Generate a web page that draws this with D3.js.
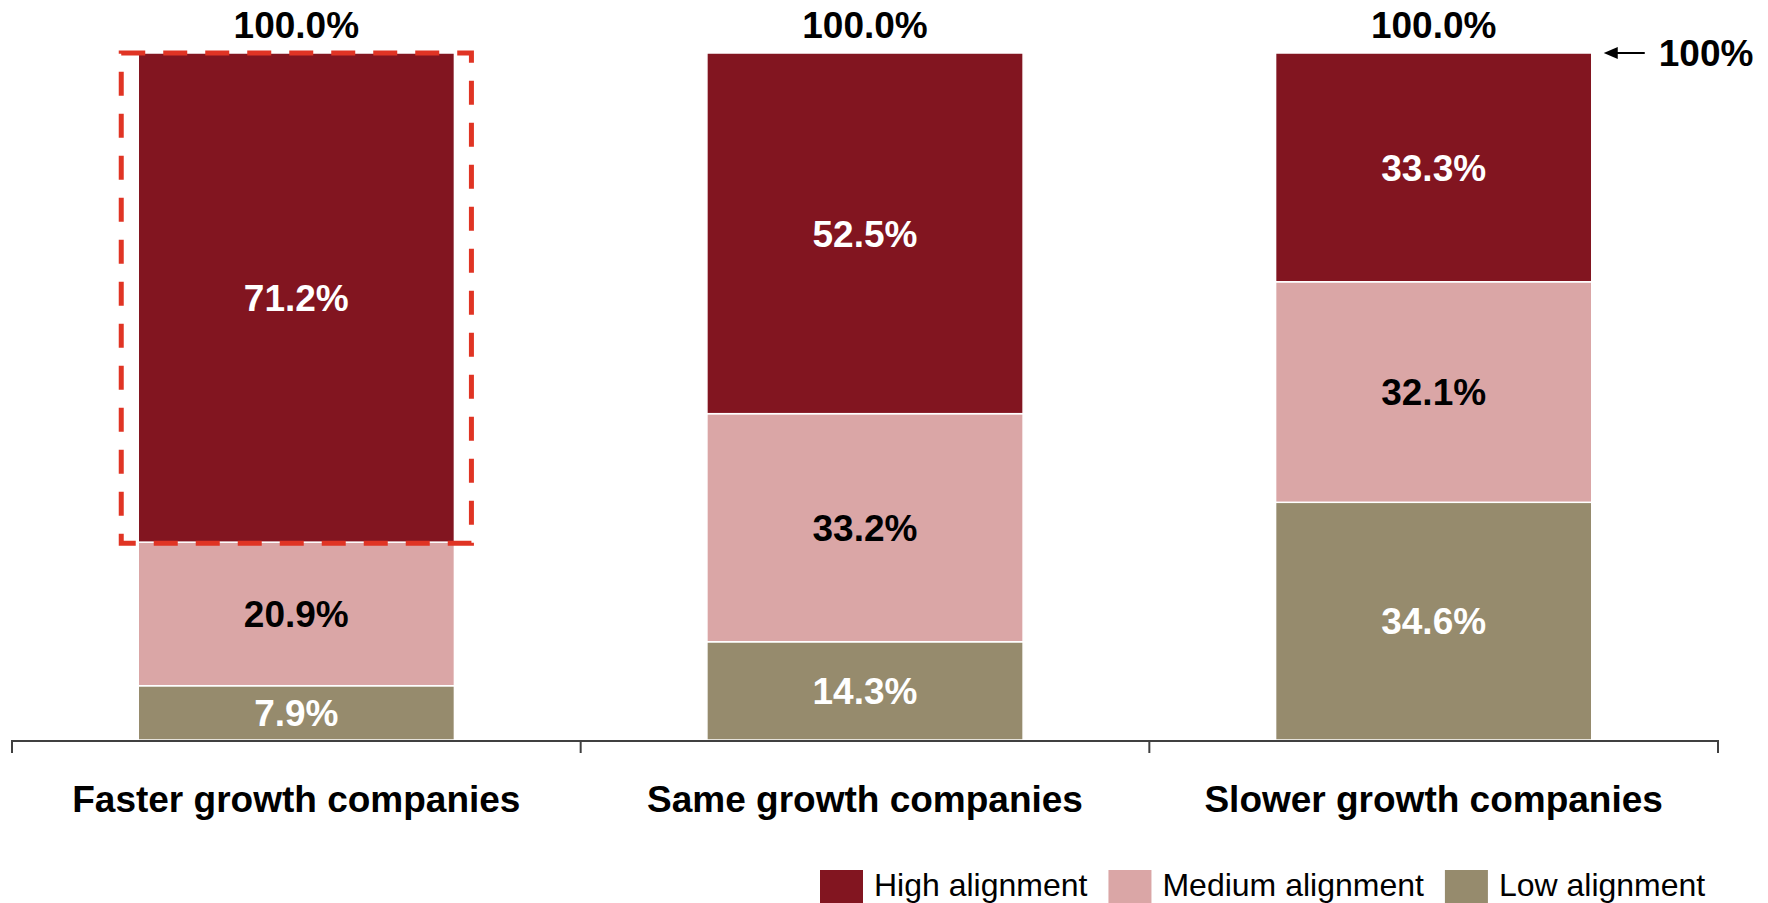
<!DOCTYPE html>
<html>
<head>
<meta charset="utf-8">
<script src="https://cdn.jsdelivr.net/npm/d3@7/dist/d3.min.js"></script>
<style>
  html, body { margin: 0; padding: 0; background: #fff; }
  svg { display: block; font-family: "Liberation Sans", Arial, sans-serif; }
</style>
</head>
<body>
<svg id="chart" width="1768" height="903"></svg>
<script>
// Share of companies by alignment level, per growth group
const categories = ["Faster growth companies", "Same growth companies", "Slower growth companies"];
const seriesNames = ["High alignment", "Medium alignment", "Low alignment"];
const highAlignment = [71.2, 52.5, 33.3];
const mediumAlignment = [20.9, 33.2, 32.1];
const lowAlignment = [7.9, 14.3, 34.6];
const totals = [100.0, 100.0, 100.0];
const referenceLevel = 100;
const referenceLabel = "100%";

const colors = {
  "High alignment": "#821520",
  "Medium alignment": "#DAA6A6",
  "Low alignment": "#968B6D"
};
const labelColors = {
  "High alignment": "#fff",
  "Medium alignment": "#000",
  "Low alignment": "#fff"
};

const rows = categories.map((c, i) => ({
  category: c,
  "Low alignment": lowAlignment[i],
  "Medium alignment": mediumAlignment[i],
  "High alignment": highAlignment[i],
  total: totals[i]
}));

const svg = d3.select("#chart");

const x = d3.scaleBand().domain(categories).range([12, 1718]).padding(0);
const y = d3.scaleLinear().domain([0, 100]).range([740, 53]);
const barRatio = 0.556;
const barW = x.bandwidth() * barRatio;
const barX = c => x(c) + (x.bandwidth() - barW) / 2;
const cx = c => x(c) + x.bandwidth() / 2;

// stacked from the bottom: low, medium, high
const stack = d3.stack().keys(["Low alignment", "Medium alignment", "High alignment"]);
const layers = stack(rows);

const layerG = svg.selectAll("g.layer").data(layers).join("g")
  .attr("class", "layer")
  .attr("fill", d => colors[d.key]);

layerG.selectAll("rect").data(d => d.map(p => ({ key: d.key, p }))).join("rect")
  .attr("x", d => barX(d.p.data.category))
  .attr("width", barW)
  .attr("y", d => y(d.p[1]))
  .attr("height", d => y(d.p[0]) - y(d.p[1]))
  .attr("stroke", "#fff")
  .attr("stroke-width", 1.5);

// segment value labels
layerG.selectAll("text").data(d => d.map(p => ({ key: d.key, p }))).join("text")
  .attr("x", d => cx(d.p.data.category))
  .attr("y", d => (y(d.p[0]) + y(d.p[1])) / 2)
  .attr("dy", "0.36em")
  .attr("text-anchor", "middle")
  .attr("font-size", 37)
  .attr("font-weight", "bold")
  .attr("fill", d => labelColors[d.key])
  .text(d => (d.p[1] - d.p[0]).toFixed(1) + "%");

// totals above the bars
svg.append("g").selectAll("text").data(rows).join("text")
  .attr("x", d => cx(d.category))
  .attr("y", d => y(d.total) - 15)
  .attr("text-anchor", "middle")
  .attr("font-size", 37)
  .attr("font-weight", "bold")
  .attr("fill", "#000")
  .text(d => d.total.toFixed(1) + "%");

// x axis with ticks on band boundaries
const axisG = svg.append("g");
axisG.append("line")
  .attr("x1", 12).attr("x2", 1718)
  .attr("y1", 741).attr("y2", 741)
  .attr("stroke", "#404040").attr("stroke-width", 2);
const boundaries = categories.map(c => x(c)).concat([x.range()[1]]);
axisG.selectAll("line.tick").data(boundaries).join("line")
  .attr("class", "tick")
  .attr("x1", d => d).attr("x2", d => d)
  .attr("y1", 740).attr("y2", 753)
  .attr("stroke", "#404040").attr("stroke-width", 2);
axisG.selectAll("text").data(categories).join("text")
  .attr("x", d => cx(d))
  .attr("y", 812)
  .attr("text-anchor", "middle")
  .attr("font-size", 37)
  .attr("font-weight", "bold")
  .attr("fill", "#000")
  .text(d => d);

// dashed highlight around the high-alignment segment of the first group
const first = layers[2][0];
const pad = 17;
svg.append("rect")
  .attr("x", barX(categories[0]) - pad)
  .attr("y", y(first[1]))
  .attr("width", barW + 2 * pad)
  .attr("height", y(first[0]) - y(first[1]) + 1)
  .attr("fill", "none")
  .attr("stroke", "#E03424")
  .attr("stroke-width", 5)
  .attr("stroke-dasharray", "24,18");

// reference marker at the 100% level
const lastCat = categories[categories.length - 1];
const arrowY = y(referenceLevel);
const ax0 = barX(lastCat) + barW + 12;
svg.append("line")
  .attr("x1", ax0 + 8).attr("x2", ax0 + 41)
  .attr("y1", arrowY).attr("y2", arrowY)
  .attr("stroke", "#000").attr("stroke-width", 2);
svg.append("path")
  .attr("d", `M${ax0},${arrowY} L${ax0 + 14},${arrowY - 6} L${ax0 + 14},${arrowY + 6} Z`)
  .attr("fill", "#000");
svg.append("text")
  .attr("x", ax0 + 55)
  .attr("y", arrowY)
  .attr("dy", "0.36em")
  .attr("font-size", 37)
  .attr("font-weight", "bold")
  .attr("fill", "#000")
  .text(referenceLabel);

// legend
const legend = svg.append("g");
let lx = 820;
seriesNames.forEach(name => {
  legend.append("rect")
    .attr("x", lx).attr("y", 870)
    .attr("width", 43).attr("height", 33)
    .attr("fill", colors[name]);
  const t = legend.append("text")
    .attr("x", lx + 54).attr("y", 896)
    .attr("font-size", 32)
    .attr("fill", "#000")
    .text(name);
  lx += 54 + t.node().getComputedTextLength() + 21;
});
</script>
</body>
</html>
